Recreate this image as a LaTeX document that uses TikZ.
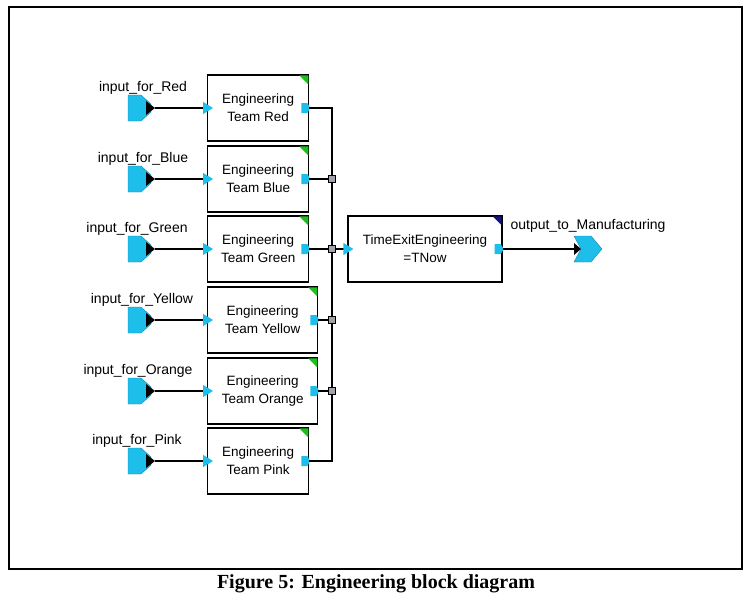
\documentclass[tikz,border=0pt]{standalone}
\usepackage{fontspec}
\setmainfont{Liberation Serif}
\setsansfont{Liberation Sans}
\usetikzlibrary{arrows.meta}
\definecolor{portcyan}{RGB}{30,190,235}
\definecolor{cornergreen}{RGB}{30,190,30}
\definecolor{cornerblue}{RGB}{20,20,130}
\definecolor{junctiongray}{RGB}{165,160,170}

\begin{document}
\begin{tikzpicture}[x=1pt, y=-1pt,
    blockbox/.style={draw, line width=1.3pt, fill=white, minimum height=66pt, align=center, inner sep=0pt,
      font=\sffamily\fontsize{13.5}{18}\selectfont},
    portlabel/.style={anchor=base, font=\sffamily\fontsize{14}{16}\selectfont},
    wire/.style={line width=1.3pt},
    inwire/.style={wire, -{Triangle[length=10pt, width=12pt, color=portcyan]}, shorten >=-6pt},
    junction/.style={draw, fill=junctiongray, line width=0.8pt, minimum size=7pt, inner sep=0pt},
    inport/.pic={
      \fill[portcyan, draw=portcyan!70!black, line width=0.4pt] (-27,-13) -- (-14,-13) -- (-4,-4) -- (-4,4) -- (-14,13) -- (-27,13) -- cycle;
      \fill[black] (-9,-7) -- (0,0) -- (-9,7) -- cycle;
    },
    outport/.pic={
      \fill[portcyan, draw=portcyan!70!black, line width=0.4pt] (0,-13) -- (17,-13) -- (28,0) -- (17,13) -- (0,13) -- (7,0) -- cycle;
      \fill[black] (0,-6) -- (7,0) -- (0,6) -- cycle;
    },
    boxport/.pic={
      \fill[portcyan] (-8,-5) -- (-2,-5) -- (1,0) -- (-2,5) -- (-8,5) -- cycle;
    },
    corner/.pic={
      \fill (-10,1) -- (-1,1) -- (-1,10) -- cycle;
    }
  ]
        \useasboundingbox (0,0) rectangle (751,600);

        % Outer frame and caption
        \draw[line width=2pt] (9,7) rectangle (742,569);
        \node[anchor=base, font=\bfseries\fontsize{20}{24}\selectfont] (caption) at (376,588) {Figure 5: Engineering block diagram};

        % Engineering team blocks with their inputs
        \foreach \team/\cy/\bw/\lx in {Red/108/101/143, Blue/179/101/143, Green/249/101/137,
                                      Yellow/320/110/142, Orange/391/110/138, Pink/461/101/137} {
          \node[blockbox, minimum width=\bw pt, anchor=west] (eng\team) at (207,\cy) {Engineering\\Team \team};
          \path (eng\team.east) pic {boxport};
          \path[cornergreen] (eng\team.north east) pic {corner};
          \path (155,\cy) coordinate (in\team) pic {inport};
          \node[portlabel] (label\team) at (\lx,\cy-17) {input\_for\_\team};
          \draw[inwire] (in\team) -- (eng\team.west);
        }

        % Collecting bus
        \coordinate (busTop) at (332,108);
        \coordinate (busBot) at (332,461);
        \draw[wire] (engRed.east) -- (busTop) -- (busBot) -- (engPink.east);
        \foreach \team in {Blue,Green,Yellow,Orange} {
          \draw[wire] (eng\team.east) -- (busTop |- eng\team.east);
          \node[junction] (j\team) at (busTop |- eng\team.east) {};
        }

        % Time stamp block
        \node[blockbox, minimum width=154pt] (timeExit) at (425,249) {TimeExitEngineering\\=TNow};
        \path (timeExit.east) pic {boxport};
        \path[cornerblue] (timeExit.north east) pic {corner};
        \draw[inwire] (jGreen) -- (timeExit.west);

        % Output to manufacturing
        \path (574,249) coordinate (outMfg) pic {outport};
        \node[portlabel] (labelMfg) at (588,229) {output\_to\_Manufacturing};
        \draw[wire] (timeExit.east) -- (outMfg);
\end{tikzpicture}
\end{document}
